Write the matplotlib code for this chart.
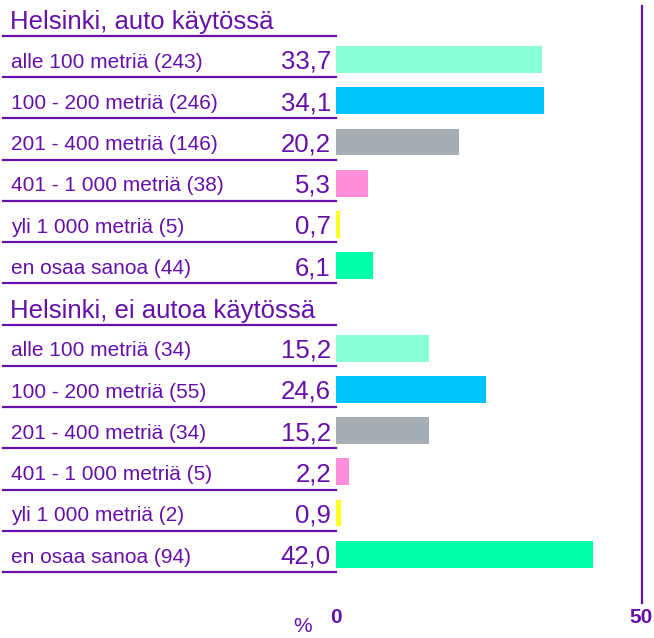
import matplotlib
matplotlib.use("Agg")
import matplotlib.pyplot as plt

plt.rcParams['font.family'] = ['Liberation Sans', 'DejaVu Sans']

otsikot = ['Helsinki, auto käytössä', 'Helsinki, ei autoa käytössä']
luokat_auto = ['alle 100 metriä (243)', '100 - 200 metriä (246)', '201 - 400 metriä (146)',
               '401 - 1 000 metriä (38)', 'yli 1 000 metriä (5)', 'en osaa sanoa (44)']
arvot_auto = [33.7, 34.1, 20.2, 5.3, 0.7, 6.1]
luokat_ei = ['alle 100 metriä (34)', '100 - 200 metriä (55)', '201 - 400 metriä (34)',
             '401 - 1 000 metriä (5)', 'yli 1 000 metriä (2)', 'en osaa sanoa (94)']
arvot_ei = [15.2, 24.6, 15.2, 2.2, 0.9, 42.0]
varit = ['#8BFFD8', '#00C4FF', '#A4AEB4', '#FF8FD8', '#FFFF22', '#00FFA8']
x_tikit = [0, 50]

violetti = '#6610AA'

fig = plt.figure(figsize=(6.54, 6.38), dpi=100)
ax = fig.add_axes([0, 0, 1, 1])
ax.set_xlim(-54.82, 52.04)
ax.set_ylim(15.601, 0.127)
ax.axis('off')

rivi = 0
for otsikko, luokat, arvot in zip(otsikot, [luokat_auto, luokat_ei], [arvot_auto, arvot_ei]):
    ax.text(-53.2, rivi + 0.84, otsikko, fontsize=18.5, color=violetti, va='baseline', ha='left')
    ax.plot([-54.33, 0], [rivi + 1, rivi + 1], color=violetti, lw=1.6)
    rivi += 1
    for luokka, arvo, vari in zip(luokat, arvot, varit):
        ax.barh(rivi + 0.57, arvo, height=0.65, left=0, color=vari)
        ax.text(-53.0, rivi + 0.77, luokka, fontsize=15, color=violetti, va='baseline', ha='left')
        ax.text(-0.75, rivi + 0.80, f'{arvo:.1f}'.replace('.', ','), fontsize=18.5,
                color=violetti, va='baseline', ha='right')
        ax.plot([-54.33, 0], [rivi + 1, rivi + 1], color=violetti, lw=1.6)
        rivi += 1

ax.plot([50, 50], [0.272, 14.75], color=violetti, lw=1.6)
for t in x_tikit:
    ax.text(t, 15.24, str(t), fontsize=15, fontweight='bold', color=violetti,
            ha='center', va='baseline')
ax.text(-5.4, 15.46, '%', fontsize=15, color=violetti, ha='center', va='baseline')

fig.savefig('out.png', dpi=100)
